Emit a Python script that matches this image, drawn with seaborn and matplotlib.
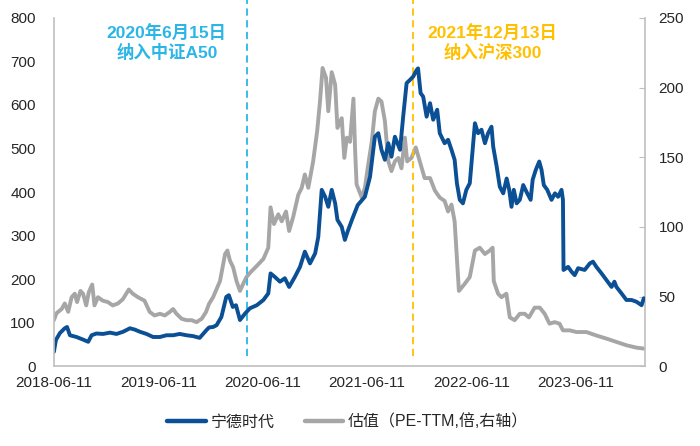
import pandas as pd
import numpy as np
import matplotlib
matplotlib.use('Agg')
import matplotlib.pyplot as plt
import matplotlib.dates as mdates
from matplotlib.lines import Line2D
import seaborn as sns

# ============================================================
# 数据
# ============================================================
price_dates = [
    '2018-06-11', '2018-06-18', '2018-07-02', '2018-07-19', '2018-07-27', '2018-08-06',
    '2018-08-29', '2018-09-21', '2018-10-09', '2018-10-21', '2018-11-07', '2018-11-30',
    '2018-12-24', '2019-01-16', '2019-02-08', '2019-03-04', '2019-03-21', '2019-04-08',
    '2019-05-01', '2019-05-24', '2019-06-17', '2019-07-10', '2019-08-02', '2019-08-25',
    '2019-09-18', '2019-10-11', '2019-11-03', '2019-11-27', '2019-12-06', '2019-12-20',
    '2020-01-01', '2020-01-18', '2020-02-04', '2020-02-13', '2020-02-27', '2020-03-09',
    '2020-03-23', '2020-04-10', '2020-04-27', '2020-05-21', '2020-06-13', '2020-06-30',
    '2020-07-08', '2020-07-23', '2020-08-10', '2020-08-27', '2020-09-11', '2020-10-01',
    '2020-10-19', '2020-11-05', '2020-11-23', '2020-12-11', '2020-12-22', '2021-01-03',
    '2021-01-15', '2021-01-26', '2021-02-07', '2021-02-19', '2021-02-27', '2021-03-14',
    '2021-03-25', '2021-04-04', '2021-04-21', '2021-05-09', '2021-06-03', '2021-06-21',
    '2021-07-08', '2021-07-20', '2021-07-31', '2021-08-12', '2021-08-24', '2021-09-04',
    '2021-09-16', '2021-10-04', '2021-10-15', '2021-10-27', '2021-11-07', '2021-11-19',
    '2021-12-01', '2021-12-06', '2021-12-15', '2021-12-24', '2022-01-05', '2022-01-17',
    '2022-01-28', '2022-02-11', '2022-02-20', '2022-03-09', '2022-03-21', '2022-04-02',
    '2022-04-13', '2022-04-21', '2022-05-01', '2022-05-12', '2022-05-24', '2022-06-05',
    '2022-06-15', '2022-06-23', '2022-07-04', '2022-07-16', '2022-07-28', '2022-08-08',
    '2022-08-20', '2022-08-26', '2022-09-07', '2022-09-18', '2022-09-30', '2022-10-12',
    '2022-10-21', '2022-10-29', '2022-11-06', '2022-11-16', '2022-11-27', '2022-12-09',
    '2022-12-23', '2023-01-04', '2023-01-11', '2023-01-22', '2023-02-03', '2023-02-11',
    '2023-02-19', '2023-03-03', '2023-03-18', '2023-03-30', '2023-04-10', '2023-04-22',
    '2023-04-27', '2023-04-29', '2023-05-15', '2023-05-27', '2023-06-07', '2023-06-19',
    '2023-07-12', '2023-07-30', '2023-08-10', '2023-08-22', '2023-09-09', '2023-09-26',
    '2023-10-14', '2023-10-24', '2023-10-31', '2023-11-18', '2023-12-05', '2023-12-23',
    '2024-01-09', '2024-01-27', '2024-02-04',
]
price = [
    33, 60, 76, 87, 90, 71,
    67, 61, 56, 71, 75, 74,
    77, 74, 79, 87, 84, 79,
    74, 67, 67, 71, 71, 74,
    71, 69, 65, 83, 89, 90,
    94, 113, 159, 163, 136, 140,
    106, 121, 133, 140, 152, 167,
    213, 205, 194, 202, 182, 205,
    228, 263, 236, 259, 297, 405,
    389, 366, 405, 374, 336, 320,
    290, 310, 340, 370, 389, 435,
    527, 535, 497, 474, 512, 481,
    527, 497, 573, 650, 657, 665,
    680, 684, 627, 619, 573, 604,
    566, 589, 535, 512, 520, 497,
    474, 420, 382, 374, 405, 420,
    497, 558, 535, 543, 512, 535,
    550, 504, 459, 412, 397, 431,
    405, 366, 405, 374, 382, 416,
    397, 382, 428, 451, 470, 451,
    416, 405, 382, 397, 389, 405,
    382, 221, 228, 217, 209, 225,
    221, 236, 240, 228, 213, 198,
    182, 194, 182, 167, 152, 152,
    148, 140, 156,
]

pe_dates = [
    '2018-06-11', '2018-06-20', '2018-07-08', '2018-07-19', '2018-07-31', '2018-08-12',
    '2018-08-23', '2018-08-31', '2018-09-12', '2018-09-21', '2018-10-02', '2018-10-11',
    '2018-10-23', '2018-10-31', '2018-11-12', '2018-11-29', '2018-12-17', '2019-01-03',
    '2019-01-21', '2019-02-07', '2019-02-28', '2019-03-14', '2019-04-01', '2019-04-24',
    '2019-05-12', '2019-05-29', '2019-06-17', '2019-07-04', '2019-07-22', '2019-08-02',
    '2019-08-14', '2019-09-01', '2019-09-18', '2019-10-06', '2019-10-23', '2019-11-10',
    '2019-11-25', '2019-12-06', '2019-12-20', '2020-01-13', '2020-01-31', '2020-02-08',
    '2020-02-17', '2020-02-28', '2020-03-11', '2020-03-23', '2020-04-03', '2020-04-15',
    '2020-04-27', '2020-05-21', '2020-06-13', '2020-06-30', '2020-07-08', '2020-07-20',
    '2020-08-04', '2020-08-16', '2020-08-31', '2020-09-11', '2020-09-25', '2020-10-13',
    '2020-10-25', '2020-11-05', '2020-11-17', '2020-12-04', '2020-12-18', '2020-12-28',
    '2021-01-06', '2021-01-18', '2021-01-26', '2021-02-07', '2021-02-19', '2021-02-27',
    '2021-03-14', '2021-03-23', '2021-04-01', '2021-04-12', '2021-04-24', '2021-04-30',
    '2021-05-05', '2021-05-23', '2021-06-03', '2021-06-15', '2021-06-27', '2021-07-08',
    '2021-07-20', '2021-07-31', '2021-08-12', '2021-08-24', '2021-09-04', '2021-09-16',
    '2021-09-28', '2021-10-09', '2021-10-21', '2021-10-29', '2021-11-13', '2021-11-28',
    '2021-12-12', '2021-12-29', '2022-01-17', '2022-02-03', '2022-02-20', '2022-03-09',
    '2022-03-21', '2022-04-02', '2022-04-13', '2022-04-21', '2022-04-28', '2022-05-18',
    '2022-06-05', '2022-06-23', '2022-07-10', '2022-07-28', '2022-08-14', '2022-08-24',
    '2022-08-28', '2022-09-12', '2022-09-24', '2022-10-11', '2022-10-23', '2022-11-09',
    '2022-11-27', '2022-12-14', '2022-12-29', '2023-01-18', '2023-02-05', '2023-02-22',
    '2023-03-11', '2023-03-29', '2023-04-15', '2023-04-27', '2023-05-21', '2023-06-13',
    '2023-07-18', '2023-08-22', '2023-09-26', '2023-10-31', '2023-12-05', '2024-01-09',
    '2024-02-04',
]
pe = [
    33, 38, 41, 45, 39, 49.5,
    52, 46, 54, 52, 43.6, 53,
    58.6, 43.6, 49.5, 47, 46, 43.6,
    45, 48, 55, 52, 49.5, 47,
    39, 36.4, 37.6, 36.4, 39, 41,
    37.6, 34, 33, 33, 31.6, 34,
    38.8, 44.8, 49.5, 61, 80.5, 83,
    75.7, 71, 61, 54, 59, 64,
    67, 72, 77, 85, 114, 102,
    109, 104, 111, 97, 107, 123,
    128, 137.6, 128, 147, 168.6, 190,
    214, 207, 183, 211, 202, 171,
    178, 149.5, 164, 161, 192, 154,
    130.5, 121, 128, 145, 161, 183,
    192, 190, 176, 147, 140, 147,
    149.5, 142, 164, 147, 149.5, 157,
    147, 135, 135, 126, 121, 118.6,
    111, 116, 104, 78, 54, 59,
    64, 83, 85, 80.5, 83, 85,
    61, 52, 49.5, 52, 35, 33,
    37.6, 37.6, 35, 42, 42, 37.6,
    30.5, 31.6, 30.5, 25.7, 25.7, 24.5,
    24.5, 22, 19.8, 17.4, 15, 13.3,
    12.6,
]

tick_dates = ['2018-06-11', '2019-06-11', '2020-06-11', '2021-06-11', '2022-06-11', '2023-06-11']
event_dates = ['2020-04-15', '2021-11-19']
event_labels = ['2020年6月15日\n纳入中证A50', '2021年12月13日\n纳入沪深300']
event_colors = ['#2BB6E6', '#FFC000']

price_label = '宁德时代'
pe_label = '估值（PE-TTM,倍,右轴）'

df_price = pd.DataFrame({'date': pd.to_datetime(price_dates), 'value': price})
df_pe = pd.DataFrame({'date': pd.to_datetime(pe_dates), 'value': pe})

# ============================================================
# 绘图
# ============================================================
sns.set_style('white')
plt.rcParams['font.family'] = ['Liberation Sans', 'Noto Sans CJK SC']
plt.rcParams['axes.unicode_minus'] = False

blue = '#0B4F95'
gray = '#A6A6A6'
axis_gray = '#BFBFBF'

fig, ax = plt.subplots(figsize=(7, 4.46), dpi=100)
fig.subplots_adjust(left=0.077, right=0.921, top=0.96, bottom=0.179)
ax2 = ax.twinx()

sns.lineplot(data=df_pe, x='date', y='value', ax=ax2, color=gray, linewidth=2.8, legend=False)
sns.lineplot(data=df_price, x='date', y='value', ax=ax, color=blue, linewidth=2.8, legend=False)
# 价格线画在估值线上方
ax.set_zorder(ax2.get_zorder() + 1)
ax.patch.set_visible(False)

ax.set_ylim(0, 800)
ax.set_yticks(np.arange(0, 801, 100))
ax2.set_ylim(0, 250)
ax2.set_yticks(np.arange(0, 251, 50))
ax.set_xlim(pd.Timestamp('2018-06-11'), pd.Timestamp('2024-02-07'))
ax.set_xticks(pd.to_datetime(tick_dates))
ax.xaxis.set_major_formatter(mdates.DateFormatter('%Y-%m-%d'))

for a in (ax, ax2):
    a.set_xlabel('')
    a.set_ylabel('')
    a.spines['top'].set_visible(False)
    for s in ('left', 'right', 'bottom'):
        a.spines[s].set_color(axis_gray)
        a.spines[s].set_linewidth(1.2)
ax.spines['right'].set_visible(False)
ax2.spines['left'].set_visible(False)
ax2.spines['bottom'].set_visible(False)

ax.tick_params(axis='x', labelsize=11, length=4, color=axis_gray, direction='out', pad=3)
ax.tick_params(axis='y', labelsize=11, length=0, pad=13)
ax2.tick_params(axis='y', labelsize=11, length=4, color=axis_gray, direction='in', pad=10)

# 事件竖线与标注
text_x = [pd.Timestamp('2019-07-11'), pd.Timestamp('2022-08-23')]
for d, lab, c, tx in zip(event_dates, event_labels, event_colors, text_x):
    x = pd.Timestamp(d)
    ax.axvline(x, ymin=0.03, ymax=1.05, color=c, linestyle=(0, (4, 2.5)), linewidth=1.3,
               zorder=1, clip_on=False)
    ax.text(tx, 742, lab, color=c, fontsize=12.5, fontweight='bold', ha='center', va='center',
            linespacing=1.15)

handles = [Line2D([0], [0], color=blue, linewidth=3.2),
           Line2D([0], [0], color=gray, linewidth=3.2)]
fig.legend(handles, [price_label, pe_label], loc='lower center', ncol=2, frameon=False,
           fontsize=11.5, bbox_to_anchor=(0.497, 0.005), handlelength=2.4, handletextpad=0.3,
           columnspacing=1.9)

plt.savefig('out.png', dpi=100)
